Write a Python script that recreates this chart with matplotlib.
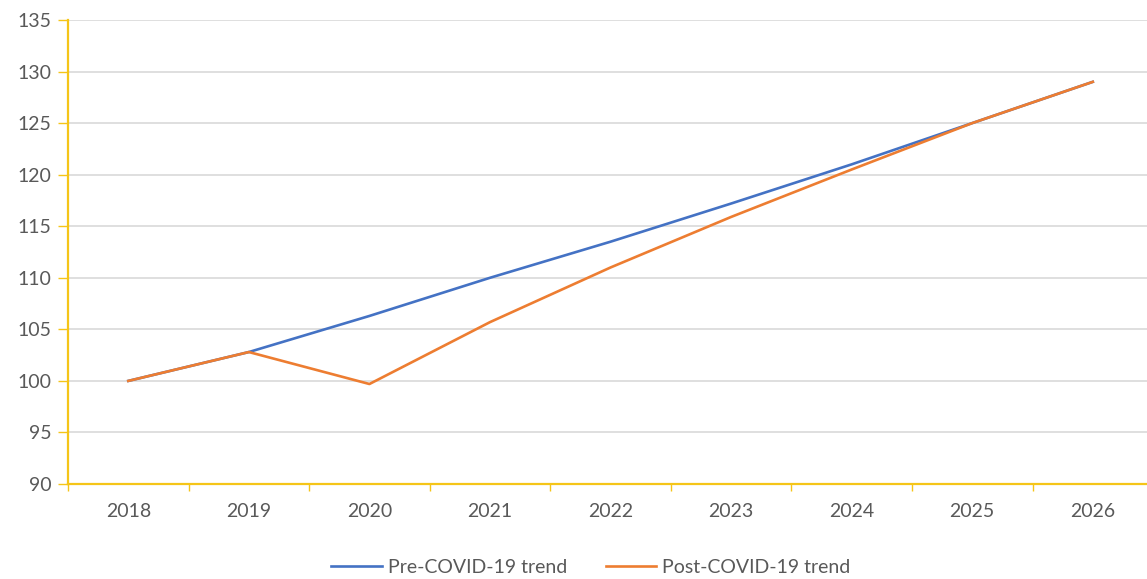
import numpy as np
import matplotlib.pyplot as plt
from matplotlib.ticker import FixedLocator, NullFormatter

plt.rcParams['font.family'] = ['Lato', 'DejaVu Sans']

years = ['2018', '2019', '2020', '2021', '2022', '2023', '2024', '2025', '2026']
pre_covid = [100.0, 102.8, 106.3, 110.0, 113.5, 117.2, 121.0, 125.0, 129.0]
post_covid = [100.0, 102.8, 99.7, 105.7, 111.0, 115.9, 120.5, 125.0, 129.0]

BLUE = '#4472C4'
ORANGE = '#ED7D31'
GOLD = '#F5C518'
TEXT = '#595959'

fig = plt.figure(figsize=(11.47, 5.79), dpi=100)
ax = fig.add_axes([0.0593, 0.164, 0.946, 0.8015])

x = np.arange(len(years))
ax.plot(x, pre_covid, color=BLUE, lw=1.9, label='Pre-COVID-19 trend', zorder=3)
ax.plot(x, post_covid, color=ORANGE, lw=1.9, label='Post-COVID-19 trend', zorder=4)

ax.set_xlim(-0.5, len(years) - 0.5)
ax.set_ylim(90, 135)
ax.set_yticks(np.arange(90, 136, 5))
ax.set_xticks(x)
ax.set_xticklabels(years)

# category boundaries carry the tick marks
ax.xaxis.set_minor_locator(FixedLocator(np.arange(-0.5, len(years), 1.0)))
ax.xaxis.set_minor_formatter(NullFormatter())
ax.tick_params(axis='x', which='major', length=0, pad=14, labelsize=14, labelcolor=TEXT)
ax.tick_params(axis='x', which='minor', length=5, width=1, color=GOLD)
ax.tick_params(axis='y', length=7, width=1, color=GOLD, pad=5, labelsize=14, labelcolor=TEXT)

ax.grid(axis='y', color='#D9D9D9', lw=1.2, zorder=0)
for side in ['top', 'right']:
    ax.spines[side].set_visible(False)
for side in ['left', 'bottom']:
    ax.spines[side].set_color(GOLD)
    ax.spines[side].set_linewidth(1.6)

fig.legend(loc='lower center', bbox_to_anchor=(0.515, -0.025), ncol=2, frameon=False,
           fontsize=14, labelcolor=TEXT, handlelength=2.6, handletextpad=0.3,
           columnspacing=2.0)

fig.savefig('out.png', dpi=100)
